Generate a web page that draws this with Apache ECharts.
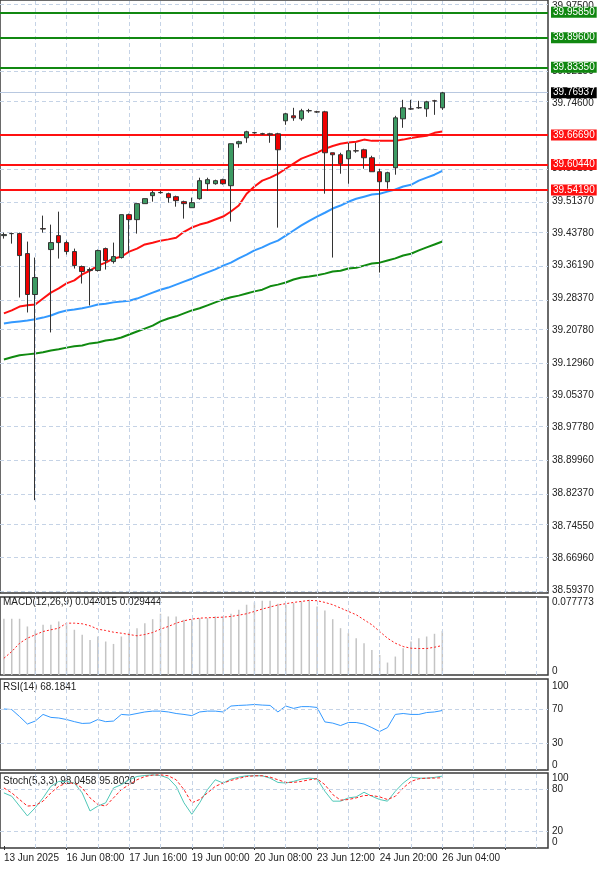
<!DOCTYPE html>
<html><head><meta charset="utf-8">
<script src="https://cdn.jsdelivr.net/npm/echarts@6/dist/echarts.min.js"></script>
<style>html,body{margin:0;padding:0;background:#fff}#c{width:600px;height:870px}</style>
</head><body><div id="c"></div>
<script>
const NSLOT = 70;
const dateLabels = ["13 Jun 2025","16 Jun 08:00","17 Jun 16:00","19 Jun 00:00","20 Jun 08:00","23 Jun 12:00","24 Jun 20:00","26 Jun 04:00"];
const priceTicks = [38.5937,38.6696,38.7455,38.8237,38.8996,38.9778,39.0537,39.1296,39.2078,39.2837,39.3619,39.4378,39.5137,39.5919,39.6669,39.7460,39.8215,39.8960,39.9750];
const opens = [39.4319,39.4367,39.4367,39.3894,39.2926,39.4485,39.3989,39.4319,39.4154,39.3942,39.3587,39.3493,39.3493,39.4012,39.3705,39.3800,39.4815,39.4697,39.5075,39.5264,39.5335,39.5311,39.5240,39.5122,39.4980,39.5193,39.5547,39.5547,39.5642,39.5500,39.6492,39.6633,39.6751,39.6728,39.6728,39.6728,39.7035,39.7153,39.7082,39.7271,39.7247,39.7247,39.6279,39.6232,39.6137,39.6326,39.6350,39.6161,39.5830,39.5594,39.5925,39.7082,39.7318,39.7342,39.7318,39.7507,39.7342];
const closes = [39.4343,39.4367,39.3847,39.2926,39.3328,39.4475,39.4154,39.4154,39.3942,39.3611,39.3469,39.3517,39.3965,39.3729,39.3823,39.4815,39.4697,39.5075,39.5193,39.5335,39.5340,39.5217,39.5146,39.5075,39.5099,39.5618,39.5642,39.5618,39.5547,39.6492,39.6539,39.6775,39.6755,39.6724,39.6704,39.6350,39.7200,39.7105,39.7271,39.7275,39.7243,39.6279,39.6232,39.6019,39.6326,39.6322,39.6161,39.5830,39.5594,39.5807,39.7105,39.7342,39.7314,39.7346,39.7483,39.7503,39.7696];
const lows = [39.4248,39.4130,39.2855,39.2501,38.8062,39.4390,39.2029,39.3776,39.3871,39.3540,39.3186,39.2666,39.3469,39.3517,39.3658,39.3776,39.3918,39.4367,39.5075,39.5122,39.5311,39.5099,39.5004,39.4721,39.4980,39.5169,39.5382,39.5524,39.5524,39.4650,39.6397,39.6515,39.6728,39.6704,39.6515,39.4508,39.6940,39.7035,39.7035,39.7224,39.7224,39.5311,39.3800,39.5783,39.5547,39.6279,39.5901,39.5830,39.3446,39.5429,39.5760,39.6869,39.7294,39.7318,39.7129,39.7176,39.7294];
const highs = [39.4390,39.4390,39.4390,39.4178,39.3800,39.4792,39.4579,39.4886,39.4201,39.4012,39.3611,39.3564,39.3989,39.4036,39.4154,39.4815,39.4839,39.5075,39.5193,39.5382,39.5382,39.5335,39.5264,39.5146,39.5217,39.5689,39.5689,39.5642,39.5665,39.6492,39.6562,39.6799,39.6775,39.6751,39.6751,39.6751,39.7224,39.7342,39.7318,39.7318,39.7271,39.7271,39.6279,39.6279,39.6515,39.6515,39.6374,39.6208,39.5901,39.5830,39.7153,39.7531,39.7531,39.7507,39.7507,39.7531,39.7719];
const maRed = [39.248,39.255,39.264,39.267,39.269,39.283,39.297,39.307,39.319,39.326,39.340,39.349,39.361,39.368,39.378,39.382,39.394,39.401,39.411,39.415,39.420,39.423,39.427,39.441,39.451,39.458,39.463,39.470,39.477,39.489,39.503,39.531,39.548,39.562,39.569,39.578,39.590,39.602,39.614,39.621,39.628,39.637,39.644,39.649,39.652,39.654,39.659,39.656,39.656,39.656,39.656,39.659,39.663,39.666,39.668,39.675,39.678];
const maBlue = [39.224,39.227,39.229,39.231,39.234,39.238,39.243,39.250,39.255,39.257,39.260,39.264,39.269,39.271,39.274,39.276,39.278,39.283,39.290,39.297,39.304,39.309,39.316,39.323,39.330,39.338,39.345,39.352,39.361,39.368,39.378,39.387,39.397,39.404,39.413,39.420,39.432,39.444,39.456,39.467,39.477,39.486,39.496,39.503,39.512,39.519,39.524,39.529,39.531,39.536,39.541,39.548,39.552,39.562,39.569,39.576,39.585];
const maGreen = [39.139,39.144,39.149,39.151,39.153,39.156,39.160,39.163,39.167,39.170,39.172,39.177,39.179,39.184,39.186,39.191,39.198,39.205,39.212,39.219,39.229,39.236,39.241,39.248,39.255,39.260,39.267,39.274,39.281,39.286,39.290,39.295,39.300,39.304,39.312,39.316,39.321,39.328,39.333,39.335,39.338,39.342,39.347,39.349,39.354,39.356,39.361,39.366,39.368,39.373,39.378,39.385,39.389,39.397,39.404,39.411,39.418];
const greenLevels = [39.9585,39.8960,39.8335];
const redLevels = [39.6669,39.6044,39.5419];
const lastPrice = 39.76937;
const macdHist = [0.0560,0.0561,0.0561,0.0484,0.0444,0.0501,0.0501,0.0534,0.0507,0.0451,0.0401,0.0350,0.0384,0.0334,0.0310,0.0384,0.0424,0.0467,0.0517,0.0557,0.0611,0.0584,0.0584,0.0551,0.0557,0.0567,0.0567,0.0584,0.0584,0.0611,0.0651,0.0701,0.0724,0.0741,0.0741,0.0711,0.0701,0.0718,0.0734,0.0751,0.0684,0.0644,0.0557,0.0467,0.0417,0.0367,0.0317,0.0250,0.0200,0.0124,0.0184,0.0267,0.0334,0.0367,0.0384,0.0411,0.0440];
const macdSignal = [0.0167,0.0234,0.0317,0.0367,0.0401,0.0434,0.0451,0.0467,0.0517,0.0517,0.0511,0.0491,0.0457,0.0444,0.0427,0.0417,0.0404,0.0391,0.0404,0.0424,0.0457,0.0484,0.0517,0.0541,0.0557,0.0567,0.0571,0.0574,0.0577,0.0584,0.0597,0.0611,0.0634,0.0658,0.0678,0.0698,0.0711,0.0724,0.0734,0.0744,0.0741,0.0724,0.0701,0.0668,0.0634,0.0601,0.0551,0.0501,0.0434,0.0367,0.0317,0.0284,0.0267,0.0264,0.0264,0.0277,0.0294];
const rsi = [70,69.3,61.1,52.3,55.8,63.6,60.1,59.4,57.6,55.1,53.0,53.4,57.6,55.1,55.8,63.6,62.9,64.7,66.5,67.5,67.5,66.5,64.7,63.6,62.2,66.5,67.5,67.5,66.5,73.5,74.2,74.6,75.3,74.6,74.2,66.5,73.5,70.7,72.8,72.8,71.8,54.8,53.4,50.5,54.1,54.1,52.3,48.1,43.5,48.1,63.6,64.7,63.6,63.6,65.8,66.5,68.2];
const stochK = [74.5,69.8,56.0,42.2,53.7,67.5,83.7,90.6,90.6,88.3,74.5,49.1,56.0,60.6,81.4,86.0,92.9,97.5,98.9,99.8,98.9,95.2,83.7,60.6,44.5,60.6,79.1,92.9,88.3,93.8,96.6,98.5,98.5,98.5,95.2,89.2,88.3,90.6,93.8,95.2,94.3,76.8,62.9,62.9,67.5,68.9,75.4,69.8,65.2,62.9,76.8,88.3,96.6,95.2,95.2,96.2,98.0];
const stochD = [81.4,74.5,65.2,56.0,56.9,62.9,74.5,83.7,88.3,88.3,81.4,67.5,58.3,56.0,67.5,79.1,86.0,92.9,97.5,99.4,99.8,98.5,92.9,79.1,60.6,65.2,74.5,83.7,88.3,92.0,94.8,97.5,98.5,98.5,96.6,92.9,89.2,89.2,90.6,92.9,94.3,86.0,72.2,64.3,65.2,67.5,70.8,70.8,68.9,65.2,69.8,81.4,90.6,94.3,95.2,95.2,95.8];

const cats = Array.from({length:NSLOT},(_,i)=>String(i));
const FONT = 'Liberation Sans';
const gridC = '#c5d3e6';
const vLines = cats.filter((c,i)=>i%4===0 && i>0).map(c=>({xAxis:c}));
const candles = opens.map((o,i)=>[o,closes[i],lows[i],highs[i]]);
const grids = [
  {left:-4,width:552,top:-1,height:594},
  {left:-4,width:552,top:597,height:78},
  {left:-4,width:552,top:679,height:91},
  {left:-4,width:552,top:773,height:75}
].map(g=>Object.assign(g,{show:true,borderColor:'#3a3a3a',borderWidth:1.5,containLabel:false}));
const xAxes = grids.map((g,k)=>({
  type:'category',gridIndex:k,data:cats,boundaryGap:true,
  axisLine:{show:false},splitLine:{show:false},
  axisTick:{show:k===3,alignWithLabel:true,interval:(i)=>i%8===0,length:4,lineStyle:{color:'#333'}},
  axisLabel:{show:k===3,interval:(i)=>i%8===0,formatter:(v,i)=>dateLabels[i/8]||'',align:'left',
    margin:5,fontSize:10,color:'#222',fontFamily:FONT}
}));
const lab = {fontSize:10,color:'#222',fontFamily:FONT,margin:4};
const yAxes = [
  {type:'value',gridIndex:0,position:'right',min:38.5866,max:39.9892,scale:true,
    splitLine:{show:false},axisLine:{show:false},axisTick:{show:false},
    axisLabel:Object.assign({customValues:priceTicks,formatter:v=>v.toFixed(5)},lab)},
  {type:'value',gridIndex:1,position:'right',min:0,max:0.0778,splitLine:{show:false},axisLine:{show:false},axisTick:{show:false},
    axisLabel:Object.assign({customValues:[0,0.077773],formatter:v=>v===0?'{b|0}':'{t|0.077773}',
      rich:{t:{padding:[11,0,0,0],fontSize:10,fontFamily:FONT,color:'#222'},b:{padding:[0,0,8,0],fontSize:10,fontFamily:FONT,color:'#222'}}},lab)},
  {type:'value',gridIndex:2,position:'right',min:-1.8,max:105.3,splitLine:{show:false},axisLine:{show:false},axisTick:{show:false},
    axisLabel:Object.assign({customValues:[0,30,70,100],formatter:v=>v===100?'{t|100}':v===0?'{b|0}':String(v),
      rich:{t:{padding:[5,0,0,0],fontSize:10,fontFamily:FONT,color:'#222'},b:{padding:[0,0,6,0],fontSize:10,fontFamily:FONT,color:'#222'}}},lab)},
  {type:'value',gridIndex:3,position:'right',min:-2.8,max:102.4,splitLine:{show:false},axisLine:{show:false},axisTick:{show:false},
    axisLabel:Object.assign({customValues:[0,20,80,100],formatter:v=>v===100?'{t|100}':v===0?'{b|0}':String(v),
      rich:{t:{padding:[8,0,0,0],fontSize:10,fontFamily:FONT,color:'#222'},b:{padding:[0,0,8,0],fontSize:10,fontFamily:FONT,color:'#222'}}},lab)}
];
const dashed = {color:gridC,type:[4,3],width:1};
function gridSeries(k, extraY){
  const data = vLines.slice();
  (extraY||[]).forEach(y=>data.push({yAxis:y}));
  return {type:'line',xAxisIndex:k,yAxisIndex:k,data:[],z:1,silent:true,
    markLine:{symbol:'none',silent:true,animation:false,label:{show:false},lineStyle:dashed,data:data}};
}
function levelLine(v,color,bg,w){
  return {yAxis:v,lineStyle:{color:color,width:w,type:'solid'},
    label:{show:true,position:'end',distance:3,formatter:v.toFixed(5),backgroundColor:bg,color:'#fff',
      padding:[1,2,0,2],fontSize:10,fontFamily:FONT}};
}
const levels = [];
greenLevels.forEach(v=>levels.push(levelLine(v,'#118811','#118811',2)));
redLevels.forEach(v=>levels.push(levelLine(v,'#ff1010','#ff1010',2)));
levels.push(levelLine(lastPrice,'#b8c8e0','#000',1));
const lineS = (k,data,color,w,type)=>({type:'line',xAxisIndex:k,yAxisIndex:k,data:data,symbol:'none',silent:true,
  lineStyle:{color:color,width:w,type:type||'solid'},z:4,animation:false});
const option = {
  animation:false,
  backgroundColor:'#fff',
  grid:grids,xAxis:xAxes,yAxis:yAxes,
  series:[
    gridSeries(0,priceTicks),
    gridSeries(1),
    gridSeries(2,[30,70]),
    gridSeries(3,[20,80]),
    lineS(0,maGreen,'#108a10',2),
    lineS(0,maBlue,'#3399ff',2),
    lineS(0,maRed,'#ff1010',2),
    {type:'candlestick',xAxisIndex:0,yAxisIndex:0,data:candles,barWidth:5,z:5,
      itemStyle:{color:'#3d9a63',color0:'#ee0000',borderColor:'#333',borderColor0:'#333',borderWidth:1},
      markLine:{symbol:'none',silent:true,animation:false,data:levels}},
    {type:'bar',xAxisIndex:1,yAxisIndex:1,data:macdHist,barWidth:1.5,itemStyle:{color:'#c4c4c4'},z:3},
    lineS(1,macdSignal,'#ff2020',1,[2,2]),
    lineS(2,rsi,'#3399ff',1),
    lineS(3,stochK,'#50c8b8',1),
    lineS(3,stochD,'#ff2020',1,[3,2])
  ],
  graphic:[
    {type:'text',left:3,top:597,style:{text:'MACD(12,26,9) 0.044015 0.029444',fontSize:10,fontFamily:FONT,fill:'#222'}},
    {type:'text',left:3,top:682,style:{text:'RSI(14) 68.1841',fontSize:10,fontFamily:FONT,fill:'#222'}},
    {type:'text',left:3,top:776,style:{text:'Stoch(5,3,3) 98.0458 95.8020',fontSize:10,fontFamily:FONT,fill:'#222'}}
  ]
};
echarts.init(document.getElementById('c'),null,{renderer:'canvas'}).setOption(option);
</script></body></html>
